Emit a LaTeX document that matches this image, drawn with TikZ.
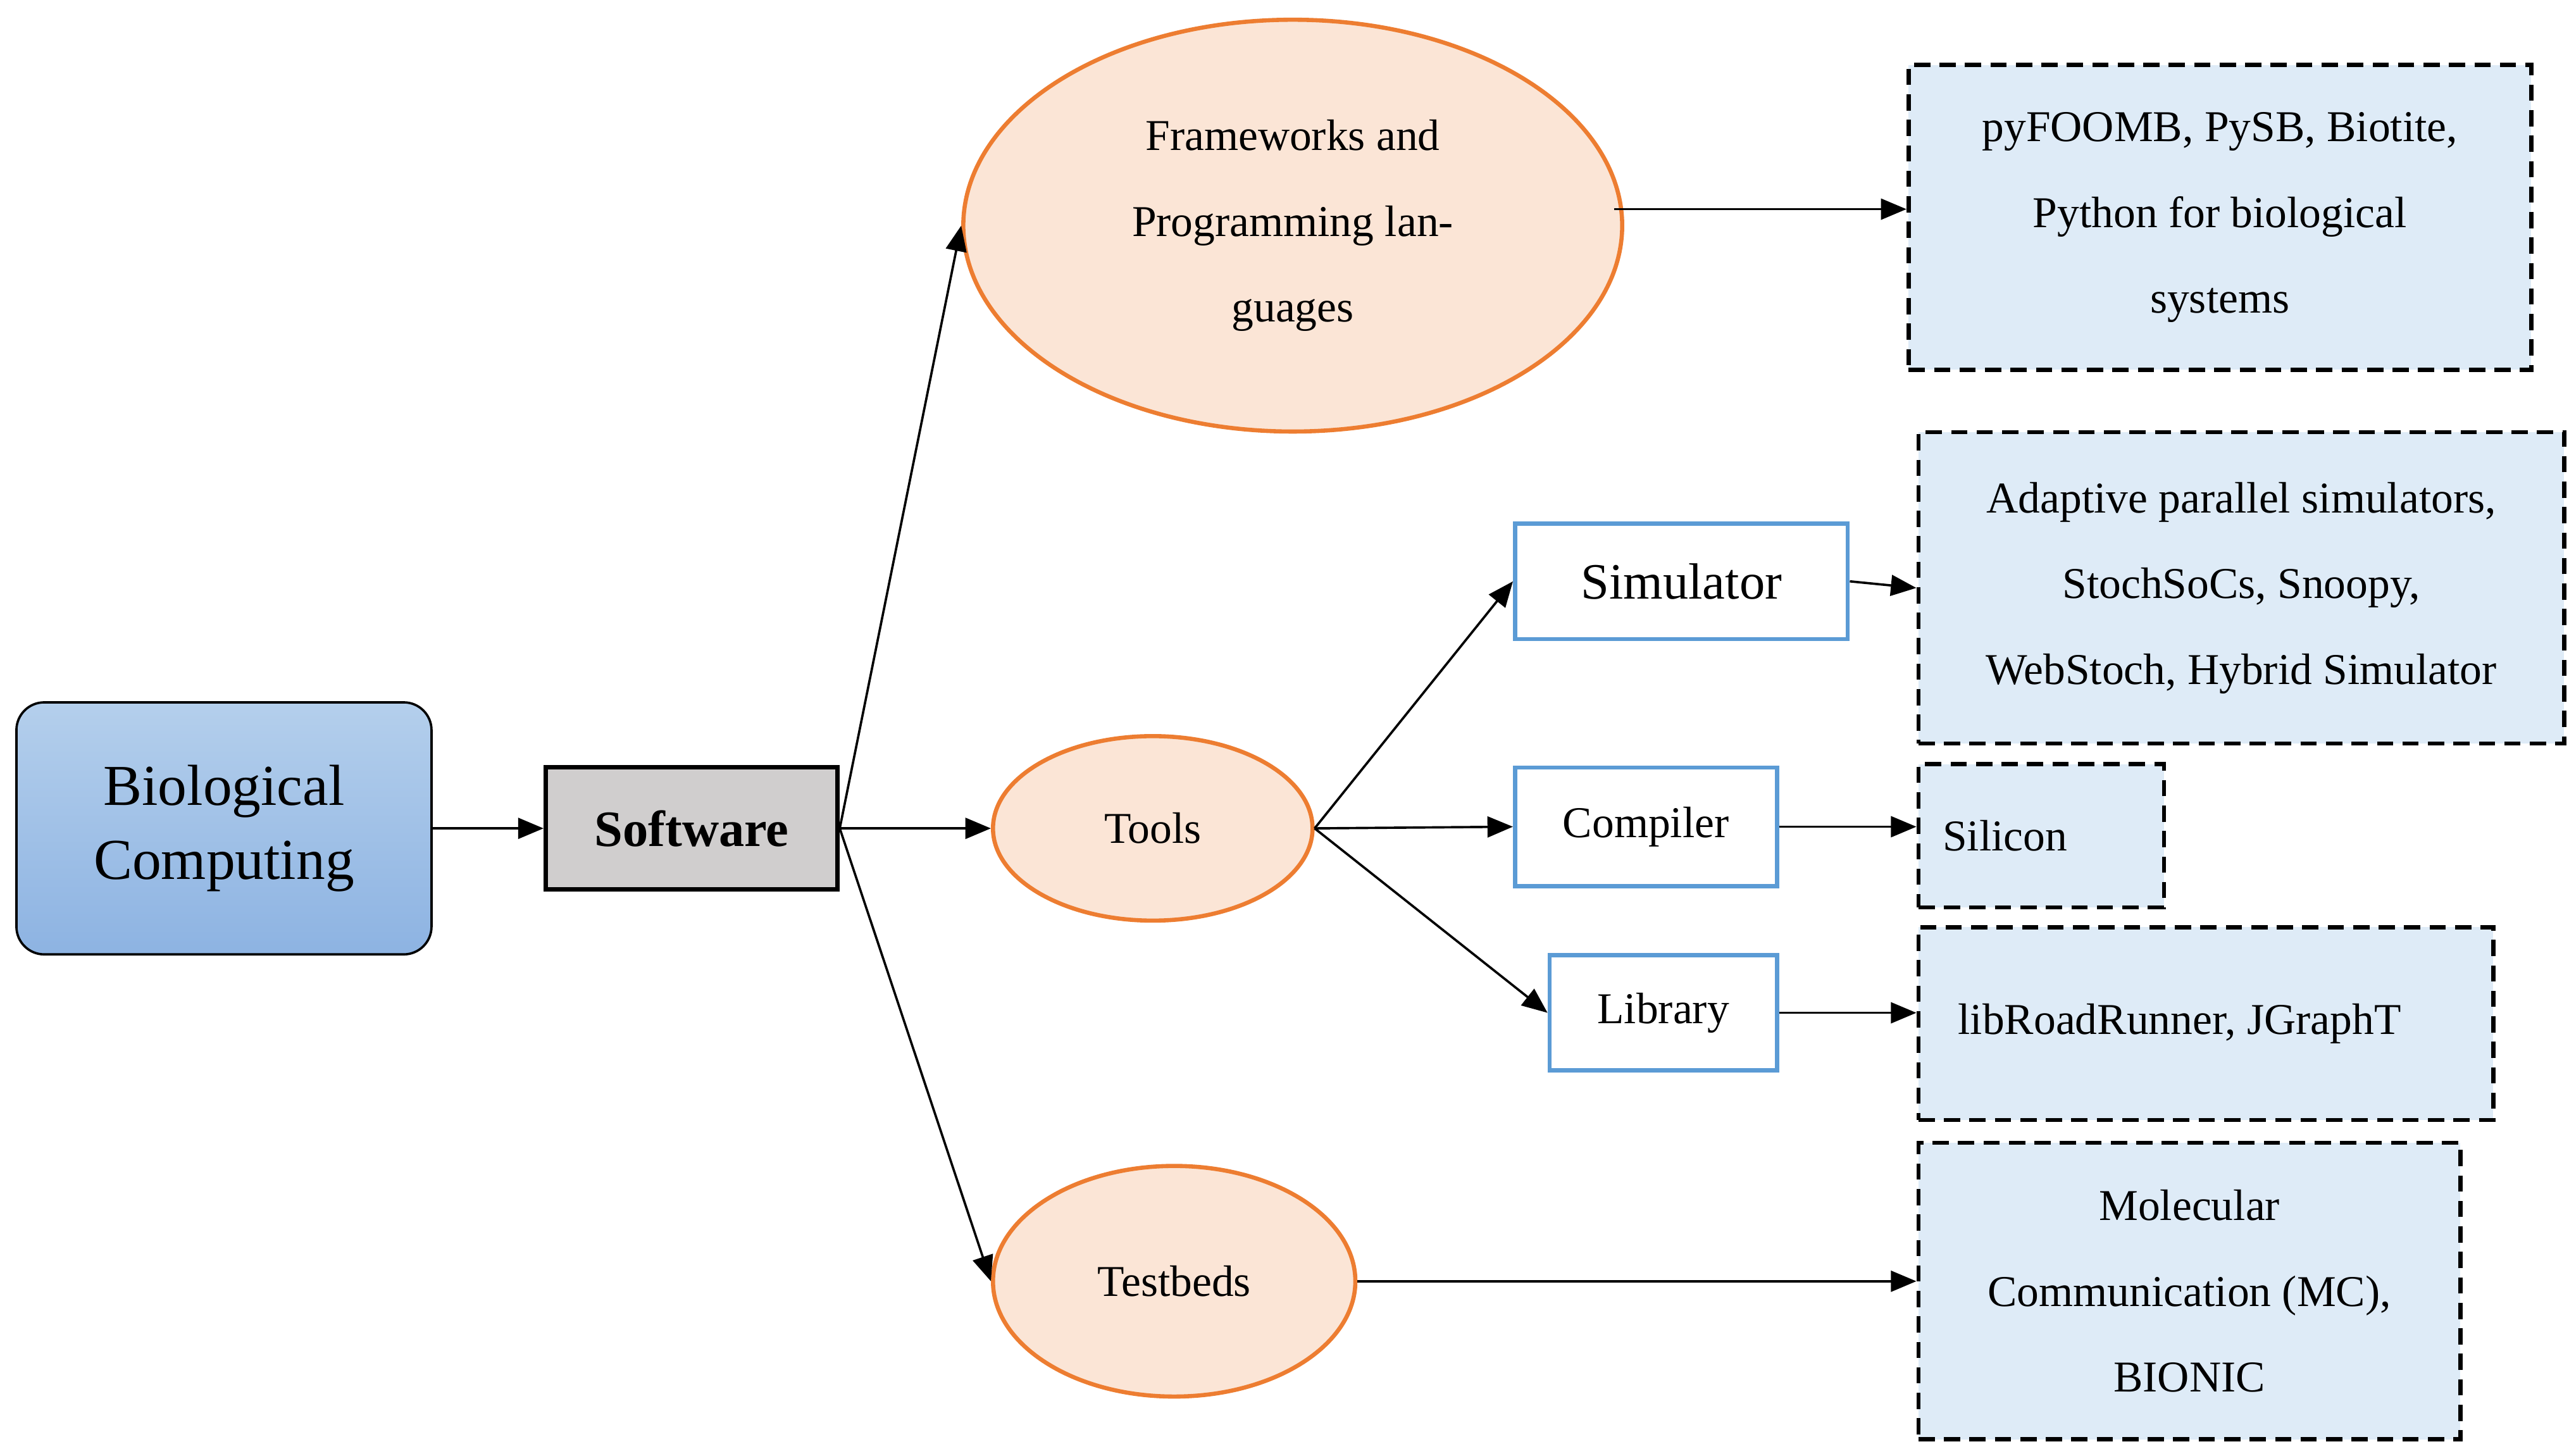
\documentclass[tikz,border=0pt]{standalone}
\usepackage{fontspec}
\setmainfont{Liberation Serif}
\usetikzlibrary{shapes.geometric,arrows.meta}
\definecolor{orfill}{HTML}{FBE5D6}
\definecolor{ordraw}{HTML}{ED7D31}
\definecolor{bluedraw}{HTML}{5B9BD5}
\definecolor{boxfill}{HTML}{DEEBF7}
\definecolor{softfill}{HTML}{D0CECE}
\definecolor{biotop}{HTML}{B4CFEC}
\definecolor{biobot}{HTML}{8DB3E2}
\begin{document}
\begin{tikzpicture}[x=0.025cm,y=-0.025cm,
  txt/.style={font=\fontsize{19}{37}\selectfont,align=center},
  ell/.style={ellipse,fill=orfill,draw=ordraw,line width=1.8pt,inner sep=0pt,txt},
  tool/.style={draw=bluedraw,fill=white,line width=1.8pt,inner sep=0pt,txt},
  dbox/.style={draw=black,dashed,dash pattern=on 7pt off 4pt,fill=boxfill,line width=1.8pt,inner sep=0pt,txt},
  arr/.style={-{Triangle[length=11pt,width=9pt]},line width=1pt}]
\useasboundingbox (0,0) rectangle (1560,884);
\node[draw=black,line width=1pt,rounded corners=12pt,top color=biotop,bottom color=biobot,
  inner sep=0pt,font=\fontsize{25}{32}\selectfont,align=center,minimum width=6.3cm,minimum height=3.825cm] (bio) at (136,503) {Biological\\Computing};
\node[draw=black,fill=softfill,line width=2pt,minimum width=4.425cm,minimum height=1.85cm,inner sep=0pt,
  font=\fontsize{22}{26}\selectfont\bfseries] (sw) at (420,503) {Software};
\node[ell,minimum width=10cm,minimum height=6.25cm] (fw) at (785,137) {Frameworks and\\Programming lan-\\guages};
\node[ell,minimum width=4.85cm,minimum height=2.8cm] (tools) at (700,503) {Tools};
\node[ell,minimum width=5.5cm,minimum height=3.5cm] (tb) at (713,778) {Testbeds};
\node[tool,minimum width=5.05cm,minimum height=1.75cm,font=\fontsize{22}{26}\selectfont] (sim) at (1021,353) {Simulator};
\node[tool,minimum width=3.975cm,minimum height=1.8cm] (comp) at (999.5,502) {Compiler};
\node[tool,minimum width=3.45cm,minimum height=1.75cm] (lib) at (1010,615) {Library};
\node[dbox,minimum width=9.45cm,minimum height=4.625cm] (b1) at (1348,132) {pyFOOMB, PySB, Biotite,\\Python for biological\\systems};
\node[dbox,minimum width=9.8cm,minimum height=4.725cm] (b2) at (1361,357) {Adaptive parallel simulators,\\StochSoCs, Snoopy,\\WebStoch, Hybrid Simulator};
\node[dbox,minimum width=3.725cm,minimum height=2.175cm] (b3) at (1239.5,507.5) {Silicon\hspace{1.1cm}};
\node[dbox,minimum width=8.725cm,minimum height=2.925cm] (b4) at (1339.5,621.5) {libRoadRunner, JGraphT\hspace{0.8cm}};
\node[dbox,minimum width=8.225cm,minimum height=4.5cm] (b5) at (1329.5,784) {Molecular\\Communication (MC),\\BIONIC};
\draw[arr] (bio.east) -- (sw.west);
\draw[arr] (sw.east) -- (fw.west);
\draw[arr] (sw.east) -- (tools.west);
\draw[arr] (sw.east) -- (tb.west);
\coordinate (fwout) at (980,127);
\draw[arr] (fwout) -- (fwout -| b1.west);
\draw[arr] (tools.east) -- (sim.west);
\draw[arr] (tools.east) -- (comp.west);
\draw[arr] (tools.east) -- (lib.west);
\draw[arr] (sim.east) -- (b2.west);
\draw[arr] (comp.east) -- (comp.east -| b3.west);
\draw[arr] (lib.east) -- (lib.east -| b4.west);
\draw[arr] (tb.east) -- (tb.east -| b5.west);
\end{tikzpicture}
\end{document}
